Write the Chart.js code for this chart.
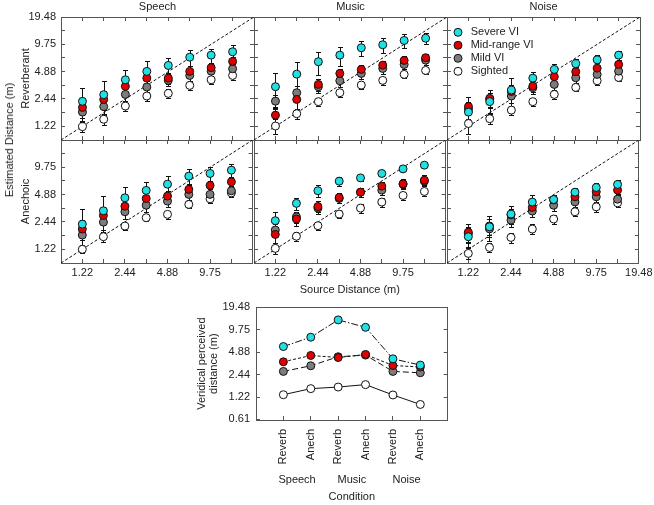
<!DOCTYPE html>
<html>
<head>
<meta charset="utf-8">
<script src="https://cdn.jsdelivr.net/npm/chart.js@4.4.0/dist/chart.umd.min.js"></script>
<style>
  body { margin: 0; width: 654px; height: 505px; position: relative; overflow: hidden; background: #fff;
         font-family: "Liberation Sans", Arial, sans-serif; }
  canvas { position: absolute; }
  .vlabel { position: absolute; font-size: 11px; color: #222; white-space: nowrap;
            transform: translate(-50%, -50%) rotate(-90deg); }
</style>
</head>
<body>
<canvas id="sr"></canvas><canvas id="mr"></canvas><canvas id="nr"></canvas>
<canvas id="sa"></canvas><canvas id="ma"></canvas><canvas id="na"></canvas>
<canvas id="vd"></canvas>
<div class="vlabel" style="left:9px;top:140px">Estimated Distance (m)</div>

<script>
// source distances (m) and axis labels
const distances = [1.22, 1.72, 2.44, 3.45, 4.88, 6.90, 9.75, 13.79];
const axisLo = 0.8627, axisHi = 19.48;
const tickVals = [1.22, 2.44, 4.88, 9.75, 19.48];
const tickLabels = ['1.22', '2.44', '4.88', '9.75', '19.48'];
const groups = ['Severe VI', 'Mid-range VI', 'Mild VI', 'Sighted'];
const fills = ['#22dfe3', '#e00000', '#7c7c7c', '#ffffff'];
const colTitles = ['Speech', 'Music', 'Noise'];
const rowTitles = ['Reverberant', 'Anechoic'];

// estimated distance, rows = severe, mid-range, mild, sighted
const speechRev = [
  [2.30, 2.72, 3.97, 4.91, 5.71, 7.04, 7.41, 8.07],
  [1.97, 2.41, 3.36, 4.14, 4.14, 4.91, 5.39, 6.32],
  [1.75, 2.01, 2.74, 3.30, 3.91, 4.43, 4.94, 5.25],
  [1.21, 1.46, 2.04, 2.63, 2.81, 3.44, 3.97, 4.43]
];
const musicRev = [
  [3.33, 4.58, 6.27, 7.41, 8.93, 9.64, 10.75, 11.39],
  [1.62, 2.41, 3.53, 4.66, 5.16, 5.75, 6.48, 6.94],
  [2.31, 2.86, 3.33, 3.87, 4.66, 5.29, 5.85, 6.53],
  [1.23, 1.68, 2.28, 2.86, 3.47, 3.91, 4.55, 5.03]
];
const noiseRev = [
  [1.75, 2.28, 3.06, 4.14, 5.16, 5.96, 6.59, 7.41],
  [2.01, 2.48, 2.95, 3.38, 4.29, 4.87, 5.33, 5.85],
  [1.88, 2.41, 2.63, 3.25, 3.53, 4.18, 4.55, 4.94],
  [1.31, 1.48, 1.84, 2.28, 2.74, 3.27, 3.87, 4.21]
];
const speechAne = [
  [2.31, 3.24, 4.50, 5.43, 6.36, 7.79, 8.34, 9.07],
  [2.04, 2.88, 3.64, 4.43, 4.70, 5.57, 6.16, 6.75],
  [1.75, 2.43, 3.16, 3.73, 4.14, 4.91, 4.91, 5.38],
  [1.22, 1.68, 2.20, 2.72, 2.96, 3.81, 4.39, 5.10]
];
const musicAne = [
  [2.52, 3.91, 5.38, 6.86, 7.46, 8.34, 9.37, 10.30],
  [1.78, 2.63, 3.61, 4.54, 5.19, 6.05, 6.41, 7.04],
  [1.99, 2.78, 3.47, 4.43, 5.19, 5.47, 6.36, 6.86],
  [1.25, 1.70, 2.22, 2.98, 3.47, 4.04, 4.78, 5.29]
];
const noiseAne = [
  [1.68, 2.16, 2.98, 4.04, 4.31, 5.19, 5.85, 6.32],
  [1.88, 2.20, 2.93, 3.53, 4.26, 4.62, 5.24, 5.47],
  [1.81, 2.05, 2.56, 3.22, 3.73, 4.06, 4.62, 4.35],
  [1.10, 1.28, 1.65, 2.04, 2.63, 3.16, 3.58, 3.96]
];

// standard errors (m)
const speechRevErr = [
  [0.95, 1.12, 1.14, 1.41, 1.17, 1.36, 1.29, 1.48],
  [0.45, 0.55, 0.60, 0.65, 0.60, 0.70, 0.75, 0.80],
  [0.35, 0.40, 0.45, 0.50, 0.50, 0.55, 0.60, 0.60],
  [0.15, 0.20, 0.25, 0.30, 0.30, 0.35, 0.40, 0.45]
];
const musicRevErr = [
  [1.41, 1.68, 1.74, 1.74, 1.63, 1.86, 1.87, 1.65],
  [0.35, 0.50, 0.55, 0.60, 0.60, 0.65, 0.70, 0.75],
  [0.40, 0.50, 0.50, 0.55, 0.60, 0.65, 0.70, 0.75],
  [0.23, 0.20, 0.25, 0.30, 0.35, 0.40, 0.45, 0.45]
];
const noiseRevErr = [
  [0.45, 0.55, 1.10, 0.70, 0.75, 0.70, 0.80, 0.85],
  [0.58, 0.55, 0.50, 0.50, 0.60, 0.60, 0.70, 0.70],
  [0.40, 0.40, 0.45, 0.45, 0.50, 0.50, 0.60, 0.60],
  [0.30, 0.20, 0.20, 0.25, 0.30, 0.30, 0.35, 0.35]
];
const speechAneErr = [
  [1.12, 1.50, 1.35, 1.33, 1.42, 1.50, 1.38, 1.66],
  [0.50, 0.60, 0.60, 0.65, 0.70, 0.75, 0.80, 0.85],
  [0.40, 0.45, 0.50, 0.55, 0.60, 0.60, 0.65, 0.70],
  [0.12, 0.20, 0.20, 0.25, 0.30, 0.35, 0.40, 0.45]
];
const musicAneErr = [
  [0.59, 0.60, 0.83, 0.80, 0.60, 0.60, 0.50, 0.50],
  [0.35, 0.45, 0.50, 0.60, 0.65, 0.70, 0.80, 0.96],
  [0.30, 0.40, 0.45, 0.50, 0.55, 0.60, 0.65, 0.70],
  [0.17, 0.19, 0.22, 0.30, 0.40, 0.45, 0.50, 0.55]
];
const noiseAneErr = [
  [0.40, 0.67, 0.67, 0.85, 0.50, 0.55, 0.70, 0.80],
  [0.44, 0.45, 0.45, 0.50, 0.50, 0.55, 0.60, 0.60],
  [0.35, 0.40, 0.40, 0.45, 0.50, 0.50, 0.55, 0.55],
  [0.15, 0.15, 0.20, 0.25, 0.30, 0.35, 0.40, 0.40]
];

// veridical perceived distance per condition
const conditions = ['Reverb', 'Anech', 'Reverb', 'Anech', 'Reverb', 'Anech'];
const stimuli = ['Speech', 'Music', 'Noise'];
const veridicalSevere = [5.80, 7.74, 13.2, 10.5, 3.97, 3.27];
const veridicalMid = [3.62, 4.40, 4.13, 4.54, 3.23, 3.08];
const veridicalMild = [2.69, 3.20, 4.23, 4.45, 2.69, 2.58];
const veridicalSighted = [1.31, 1.58, 1.66, 1.79, 1.30, 0.97];
const vTickVals = [0.61, 1.22, 2.44, 4.88, 9.75, 19.48];
const vTickLabels = ['0.61', '1.22', '2.44', '4.88', '9.75', '19.48'];

const fontFam = '"Liberation Sans", Arial, sans-serif';
const textCol = '#222';
const frameCol = '#555';
Chart.defaults.font.family = fontFam;
Chart.defaults.font.size = 11;
Chart.defaults.color = textCol;

const colLeft = [61, 254, 447], panelW = 193;
const rowTop = [17, 140], panelH = 123;

const errorBars = {
  id: 'errorBars',
  beforeDatasetsDraw(chart) {
    const { ctx, scales: { x, y } } = chart;
    ctx.save();
    ctx.strokeStyle = '#111';
    ctx.lineWidth = 1;
    chart.data.datasets.forEach(ds => {
      if (!ds.errors) return;
      ds.data.forEach((p, i) => {
        const e = ds.errors[i];
        const px = Math.round(x.getPixelForValue(p.x)) + 0.5;
        const top = Math.round(y.getPixelForValue(p.y + e)) + 0.5;
        const bot = Math.round(y.getPixelForValue(Math.max(p.y - e, 0.05))) + 0.5;
        ctx.beginPath();
        ctx.moveTo(px, top); ctx.lineTo(px, bot);
        ctx.moveTo(px - 2.5, top); ctx.lineTo(px + 2.5, top);
        ctx.moveTo(px - 2.5, bot); ctx.lineTo(px + 2.5, bot);
        ctx.stroke();
      });
    });
    ctx.restore();
  }
};

const insideLegend = {
  id: 'insideLegend',
  afterDatasetsDraw(chart) {
    const { ctx, chartArea } = chart;
    ctx.save();
    ctx.font = '11px ' + fontFam;
    ctx.textBaseline = 'middle';
    chart.data.datasets.forEach((ds, i) => {
      if (!ds.errors) return;
      const cx = chartArea.left + 11, cy = chartArea.top + 15.3 + i * 13;
      ctx.fillStyle = ds.pointBackgroundColor;
      ctx.strokeStyle = '#111';
      ctx.lineWidth = 1;
      Chart.helpers.drawPoint(ctx, { pointStyle: 'circle', radius: 4, borderWidth: 1 }, cx, cy);
      ctx.fillStyle = textCol;
      ctx.fillText(ds.label, cx + 12.7, cy);
    });
    ctx.restore();
  }
};

function labelFor(v, showTop) {
  const k = tickVals.indexOf(v);
  if (k < 0) return '';
  if (v === axisHi && !showTop) return '';
  return tickLabels[k];
}

const logTicks = distances.concat([axisHi]);

function makePanel(id, col, row, rows, errs) {
  const L = col === 0 ? colLeft[0] : 6;
  const R = col === 2 ? 20 : 6;
  const T = row === 0 ? 17 : 20;
  const B = row === 1 ? 36 : 20;
  const cv = document.getElementById(id);
  cv.width = L + panelW + R;
  cv.height = T + panelH + B;
  cv.style.left = (colLeft[col] - L) + 'px';
  cv.style.top = (rowTop[row] - T) + 'px';

  const sets = groups.map((g, k) => ({
    label: g,
    data: distances.map((d, i) => ({ x: d, y: rows[k][i] })),
    errors: errs[k],
    order: k,
    pointRadius: 4,
    pointBackgroundColor: fills[k],
    pointBorderColor: '#111',
    pointBorderWidth: 1
  }));
  sets.push({
    label: 'diag',
    data: [{ x: axisLo, y: axisLo }, { x: axisHi, y: axisHi }],
    showLine: true, borderColor: '#111', borderWidth: 1, borderDash: [3, 2],
    pointRadius: 0, order: 10
  });

  const setTicks = s => { s.ticks = logTicks.map(v => ({ value: v })); };
  const gridOpt = { drawOnChartArea: false, tickLength: -4, color: frameCol };
  const border = { color: frameCol, width: 1 };

  new Chart(cv, {
    type: 'scatter',
    data: { datasets: sets },
    options: {
      responsive: false, animation: false, devicePixelRatio: 1, events: [],
      layout: { padding: 0 },
      plugins: { legend: { display: false }, tooltip: { enabled: false } },
      scales: {
        x: {
          type: 'logarithmic', position: 'bottom', min: axisLo, max: axisHi,
          afterBuildTicks: setTicks,
          afterFit: s => { s.height = B; },
          grid: gridOpt, border,
          ticks: { display: row === 1, autoSkip: false, maxRotation: 0, padding: 7.4,
                   callback: v => labelFor(v, col === 2) },
          title: { display: row === 1 && col === 1, text: 'Source Distance (m)',
                   padding: { top: 0, bottom: 2.4 } }
        },
        x2: {
          type: 'logarithmic', position: 'top', min: axisLo, max: axisHi,
          afterBuildTicks: setTicks,
          afterFit: s => { s.height = T; },
          grid: gridOpt, border,
          ticks: { display: false },
          title: { display: row === 0, text: colTitles[col], padding: { top: 0.5, bottom: 0 } }
        },
        y: {
          type: 'logarithmic', position: 'left', min: axisLo, max: axisHi,
          afterBuildTicks: setTicks,
          afterFit: s => { s.width = L; },
          grid: gridOpt, border,
          ticks: { display: col === 0, autoSkip: false, padding: 9,
                   callback: v => labelFor(v, row === 0) },
          title: { display: col === 0, text: rowTitles[row], padding: { top: 18.9, bottom: 0 } }
        },
        y2: {
          type: 'logarithmic', position: 'right', min: axisLo, max: axisHi,
          afterBuildTicks: setTicks,
          afterFit: s => { s.width = R; },
          grid: gridOpt, border,
          ticks: { display: false }
        }
      }
    },
    plugins: id === 'nr' ? [errorBars, insideLegend] : [errorBars]
  });
}

makePanel('sr', 0, 0, speechRev, speechRevErr);
makePanel('mr', 1, 0, musicRev, musicRevErr);
makePanel('nr', 2, 0, noiseRev, noiseRevErr);
makePanel('sa', 0, 1, speechAne, speechAneErr);
makePanel('ma', 1, 1, musicAne, musicAneErr);
makePanel('na', 2, 1, noiseAne, noiseAneErr);

// veridical perceived distance panel
(function () {
  const cv = document.getElementById('vd');
  cv.width = 290; cv.height = 218;
  cv.style.left = '180px'; cv.style.top = '287px';
  const series = [veridicalSevere, veridicalMid, veridicalMild, veridicalSighted];
  const dashes = [[7, 2, 1.5, 2], [3, 2], [6, 3], []];
  const sets = series.map((vals, k) => ({
    label: groups[k],
    data: vals.map((v, i) => ({ x: i + 1, y: v })),
    showLine: true, borderColor: '#111', borderWidth: 1, borderDash: dashes[k],
    order: k, pointRadius: 4, pointBackgroundColor: fills[k],
    pointBorderColor: '#111', pointBorderWidth: 1
  }));
  const groupLabels = {
    id: 'groupLabels',
    afterDraw(chart) {
      const { ctx, scales: { x } } = chart;
      ctx.save();
      ctx.font = '11px ' + fontFam;
      ctx.fillStyle = textCol;
      ctx.textAlign = 'center';
      ctx.textBaseline = 'middle';
      stimuli.forEach((s, k) => ctx.fillText(s, x.getPixelForValue(2 * k + 1.5), 193));
      ctx.restore();
    }
  };
  const gridOpt = { drawOnChartArea: false, tickLength: -4, color: frameCol };
  const border = { color: frameCol, width: 1 };
  new Chart(cv, {
    type: 'scatter',
    data: { datasets: sets },
    options: {
      responsive: false, animation: false, devicePixelRatio: 1, events: [],
      layout: { padding: 0 },
      plugins: { legend: { display: false }, tooltip: { enabled: false } },
      scales: {
        x: {
          type: 'linear', position: 'bottom', min: 0, max: 7,
          afterBuildTicks: s => { s.ticks = conditions.map((c, i) => ({ value: i + 1 })); },
          afterFit: s => { s.height = 85; },
          grid: gridOpt, border,
          ticks: { autoSkip: false, minRotation: 90, maxRotation: 90, padding: 13,
                   callback: (v, i) => conditions[i] },
          title: { display: true, text: 'Condition', padding: { top: 0, bottom: 1.4 } }
        },
        x2: {
          type: 'linear', position: 'top', min: 0, max: 7,
          afterFit: s => { s.height = 20.3; },
          grid: { display: false }, border, ticks: { display: false }
        },
        y: {
          type: 'logarithmic', position: 'left', min: 0.61, max: 19.48,
          afterBuildTicks: s => { s.ticks = vTickVals.map(v => ({ value: v })); },
          afterFit: s => { s.width = 76; },
          grid: gridOpt, border,
          ticks: { autoSkip: false, padding: 10, callback: (v, i) => vTickLabels[i] },
          title: { display: true, text: ['Veridical perceived', 'distance (m)'],
                   font: { size: 11, lineHeight: 1.05 }, padding: { top: 16.2, bottom: 0 } }
        },
        y2: {
          type: 'logarithmic', position: 'right', min: 0.61, max: 19.48,
          afterBuildTicks: s => { s.ticks = vTickVals.slice(1, 5).map(v => ({ value: v })); },
          afterFit: s => { s.width = 22.3; },
          grid: gridOpt, border, ticks: { display: false }
        }
      }
    },
    plugins: [groupLabels]
  });
})();
</script>
</body>
</html>
